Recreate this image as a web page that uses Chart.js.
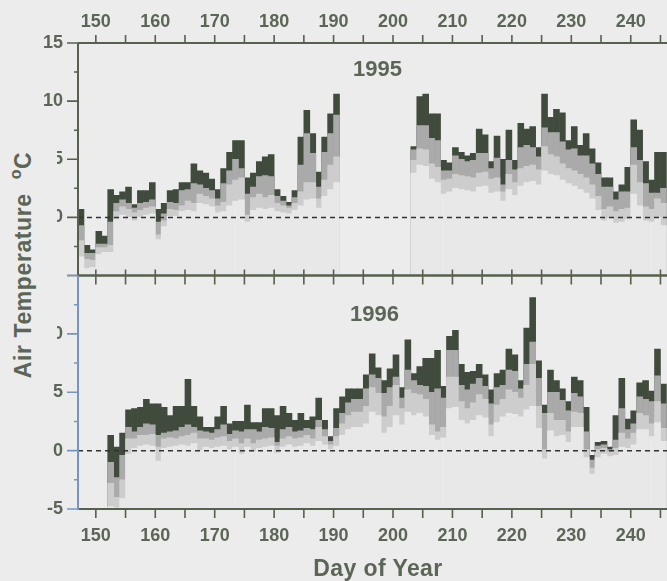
<!DOCTYPE html>
<html>
<head>
<meta charset="utf-8">
<script src="https://cdn.jsdelivr.net/npm/chart.js@4.4.0/dist/chart.umd.min.js"></script>
<style>
  html, body { margin: 0; padding: 0; background: #ececec; overflow: hidden; }
  body { width: 667px; height: 581px; position: relative; font-family: "Liberation Sans", Arial, sans-serif; }
  canvas { position: absolute; left: 0; }
  #panel1995 { top: 0; }
  #panel1996 { top: 270px; }
  .yTitle { position: absolute; left: 0; top: 140px; width: 57px; height: 243px; background: #ececec; z-index: 2; }
  .yTitle span { position: absolute; left: 23px; top: 125px; transform: translate(-50%, -50%) rotate(-90deg);
                 white-space: nowrap; font-weight: bold; font-size: 23px; letter-spacing: 0.6px; color: #5b6656; }
  .yTitle sup { font-size: 16px; position: relative; top: -2px; }
  .xTitle { position: absolute; left: 378px; top: 568px; transform: translate(-50%, -50%);
            white-space: nowrap; font-weight: bold; font-size: 23px; letter-spacing: 0.4px; color: #5b6656; z-index: 2; }
</style>
</head>
<body>
<canvas id="panel1995" width="667" height="280"></canvas>
<canvas id="panel1996" width="667" height="311"></canvas>
<div class="yTitle"><span>Air Temperature&nbsp; <sup>o</sup>C</span></div>
<div class="xTitle">Day of Year</div>
<script>
// Daily air temperature bands, one value per day starting at day 147.
// Each day is drawn as stacked bands: max (dark), upper (grey), lower (light), min.
const FIRST_DAY = 147;
const LAST_DAY = 246.1;

const max1995 = [
  0.7, -2.4, -2.8, -1.2, -1.6, 2.4, 1.9, 2.2, 2.6, 1.1,
  2.3, 2.3, 3.0, 0.7, 1.2, 2.3, 2.4, 3.0, 3.0, 4.6,
  4.0, 3.8, 3.3, 2.4, 4.2, 5.6, 6.6, 6.6, 3.4, 3.8,
  4.8, 5.2, 5.4, 2.4, 1.8, 1.3, 2.3, 6.9, 9.2, 7.2,
  3.9, 6.9, 8.9, 10.6, null, null, null, null, null, null,
  null, null, null, null, null, null, 6.1, 10.4, 10.6, 8.9,
  8.9, 4.9, 4.7, 6.0, 5.6, 5.3, 5.5, 7.6, 7.1, 4.8,
  7.0, 5.0, 7.5, 4.9, 8.1, 7.6, 7.8, 6.0, 10.6, 8.6,
  9.3, 9.0, 6.6, 7.8, 6.2, 7.2, 5.9, 4.7, 3.4, 3.4,
  2.2, 2.8, 4.3, 8.4, 7.5, 4.8, 3.2, 5.6, 5.6
];
const upper1995 = [
  -0.7, -3.1, -3.1, -2.3, -2.3, -0.4, 1.2, 1.5, 1.2, 0.8,
  1.2, 1.3, 1.5, -0.4, 0.3, 1.3, 1.2, 2.3, 2.4, 2.9,
  2.8, 2.5, 2.3, 1.6, 2.9, 4.0, 5.0, 4.2, 2.0, 2.6,
  3.5, 3.6, 3.5, 1.8, 1.4, 1.0, 1.7, 4.5, 7.2, 5.5,
  2.6, 5.6, 7.2, 8.8, null, null, null, null, null, null,
  null, null, null, null, null, null, 5.8, 7.9, 7.9, 6.8,
  6.6, 4.0, 4.0, 5.3, 5.0, 4.8, 4.9, 5.5, 5.5, 4.2,
  5.1, 2.8, 4.9, 4.1, 6.0, 6.2, 6.0, 5.2, 7.7, 7.3,
  7.3, 6.5, 5.8, 5.9, 5.3, 5.3, 4.6, 3.7, 2.6, 2.6,
  1.5, 2.2, 2.2, 6.0, 4.9, 2.9, 2.1, 2.1, 2.5
];
const lower1995 = [
  -2.0, -3.6, -3.7, -2.6, -2.6, -2.4, 0.5, 0.9, 0.7, 0.4,
  0.6, 0.8, 0.9, -1.5, -0.3, 0.7, 0.6, 1.0, 1.4, 1.2,
  2.0, 1.8, 1.6, 1.0, 1.3, 2.8, 3.2, 3.4, 0.2, 1.7,
  2.0, 1.7, 1.9, 1.2, 1.0, 0.8, 1.2, 2.2, 3.0, 3.0,
  1.6, 3.2, 4.5, 5.2, null, null, null, null, null, null,
  null, null, null, null, null, null, 4.9, 5.9, 5.8, 4.6,
  4.3, 3.2, 3.3, 3.7, 3.6, 3.5, 3.4, 3.8, 3.9, 3.3,
  3.4, 2.2, 3.7, 3.0, 4.2, 4.4, 4.5, 4.1, 6.1, 5.4,
  5.2, 4.6, 4.2, 4.0, 3.7, 3.4, 2.8, 1.8, 0.7, 0.9,
  0.5, 0.7, 0.8, 4.5, 3.0, 0.9, 0.7, 1.6, 1.2
];
const min1995 = [
  -3.4, -4.4, -4.3, -3.2, -3.0, -3.0, -0.2, 0.2, 0.0, -0.3,
  0.0, 0.2, 0.3, -1.9, -0.8, 0.1, 0.1, 0.5, 0.6, 0.5,
  1.2, 1.1, 0.9, 0.4, 0.5, 1.0, 1.4, 1.5, -0.4, 0.6,
  0.8, 0.7, 0.8, 0.5, 0.4, 0.3, 0.6, 1.0, 1.5, 1.6,
  0.8, 1.8, 2.4, 3.0, null, null, null, null, null, null,
  null, null, null, null, null, null, 3.8, 4.5, 4.4, 3.3,
  3.0, 2.0, 2.2, 2.5, 2.4, 2.3, 2.2, 2.6, 2.7, 2.1,
  2.2, 1.4, 2.4, 1.9, 2.7, 3.0, 3.1, 2.8, 4.0, 3.7,
  3.6, 3.2, 2.9, 2.7, 2.4, 2.1, 1.6, 0.6, -0.3, -0.1,
  -0.5, -0.4, -0.2, 2.0, 1.0, -0.3, -0.4, 0.0, -0.7
];

const max1996 = [
  null, null, null, null, null, 1.3, 0.3, 1.5, 3.5, 3.6,
  3.7, 4.4, 4.0, 4.0, 3.7, 3.0, 3.8, 3.8, 6.1, 3.8,
  2.9, 2.0, 2.0, 2.9, 3.8, 2.3, 2.5, 2.5, 3.9, 2.4,
  2.4, 3.6, 3.6, 3.0, 3.8, 3.2, 2.6, 3.2, 2.6, 2.9,
  4.5, 2.6, 1.2, 3.6, 4.6, 5.3, 5.3, 5.3, 6.5, 8.3,
  7.1, 6.0, 7.0, 8.2, 5.4, 9.5, 6.6, 7.2, 7.9, 7.9,
  8.6, 5.5, 9.8, 10.3, 7.4, 6.7, 6.8, 7.4, 6.5, 5.2,
  6.6, 6.9, 8.7, 8.2, 6.0, 10.5, 13.1, 7.7, 3.9, 6.9,
  6.0, 5.3, 4.2, 6.3, 6.0, 3.7, -0.4, 0.7, 0.8, 0.3,
  3.0, 6.2, 2.7, 3.4, 5.8, 6.0, 5.1, 8.7, 5.7
];
const upper1996 = [
  null, null, null, null, null, -1.0, -2.3, -0.4, 2.0, 1.6,
  2.0, 2.3, 2.2, 1.3, 1.5, 1.6, 1.7, 2.0, 2.2, 2.0,
  1.7, 1.6, 1.5, 1.8, 2.2, 1.4, 1.7, 1.6, 1.8, 1.8,
  1.6, 2.0, 1.9, 0.7, 1.8, 2.0, 1.6, 1.7, 1.9, 1.8,
  2.6, 1.8, 0.8, 1.9, 3.2, 4.1, 4.4, 4.4, 5.3, 6.5,
  6.2, 4.9, 5.4, 6.3, 4.5, 6.9, 6.0, 5.6, 5.5, 5.0,
  5.3, 4.5, 8.6, 8.6, 5.6, 5.2, 5.7, 6.2, 5.5, 4.0,
  5.4, 5.6, 6.9, 6.8, 5.3, 7.4, 9.3, 6.2, 3.2, 5.0,
  5.0, 4.3, 3.4, 4.9, 4.6, 1.6, -0.8, 0.4, 0.5, 0.1,
  0.9, 3.6, 1.8, 2.3, 4.6, 4.4, 4.2, 6.4, 4.0
];
const lower1996 = [
  null, null, null, null, null, -2.8, -4.0, -2.5, 1.0, 1.0,
  1.3, 1.3, 1.4, 0.3, 1.0, 1.1, 1.0, 1.2, 1.3, 1.5,
  1.0, 1.0, 0.9, 1.1, 1.2, 0.8, 1.0, 0.6, 1.0, 0.6,
  0.9, 1.0, 1.1, 0.4, 1.0, 1.2, 1.0, 1.1, 1.3, 1.0,
  2.0, 1.2, 0.5, 1.2, 2.3, 3.0, 3.3, 3.3, 3.8, 5.4,
  4.9, 2.9, 3.8, 5.6, 3.6, 5.2, 4.9, 4.8, 4.4, 2.2,
  1.6, 2.0, 6.3, 6.3, 4.2, 3.6, 4.1, 4.8, 4.4, 2.2,
  3.9, 4.4, 5.2, 5.0, 4.5, 5.6, 7.4, 3.8, 0.1, 3.2,
  2.6, 2.6, 1.6, 3.3, 3.2, 0.1, -1.5, 0.1, 0.2, -0.1,
  0.2, 1.5, 1.0, 1.5, 3.2, 3.0, 2.3, 4.2, 1.9
];
const min1996 = [
  null, null, null, null, null, -4.8, -4.9, -4.1, -0.3, 0.2,
  0.4, 0.5, 0.4, -0.9, 0.2, 0.3, 0.4, 0.5, 0.4, 0.6,
  0.0, 0.3, 0.2, 0.3, 0.4, 0.1, 0.3, -0.3, 0.3, -0.1,
  0.2, 0.3, 0.4, -0.2, 0.3, 0.5, 0.3, 0.4, 0.6, 0.4,
  0.8, 0.5, 0.1, 0.4, 1.3, 1.8, 2.0, 2.0, 2.3, 3.3,
  3.0, 1.5, 2.0, 3.0, 2.2, 3.3, 3.0, 3.2, 2.9, 1.3,
  0.9, 1.1, 3.6, 3.7, 2.6, 2.3, 2.6, 3.0, 2.8, 1.2,
  2.4, 2.9, 3.2, 3.1, 2.9, 3.5, 3.8, 1.9, -0.7, 1.7,
  1.2, 1.3, 0.7, 2.0, 2.0, -0.6, -2.0, -0.6, -0.3, -0.5,
  -0.4, 0.3, 0.2, 0.5, 1.8, 1.8, 1.2, 2.4, 0.8
];

const Y_MIN = -5, Y_MAX = 15;
const TEXT = '#5b6656';
const AXIS = '#56604f';

// each day occupies [day, day+1), bars go from the panel floor up to the value
function toBars(values) {
  const pts = [];
  values.forEach((v, i) => {
    if (v !== null) pts.push({ x: FIRST_DAY + i + 0.5, y: [Y_MIN, v] });
  });
  return pts;
}

function bandDatasets(tMax, tUpper, tLower, tMin) {
  // first dataset is painted last, so the lowest band sits on top
  return [
    { data: toBars(tMin), backgroundColor: '#e8e8e8' },
    { data: toBars(tLower), backgroundColor: '#cdcdcd' },
    { data: toBars(tUpper), backgroundColor: '#aaaaaa' },
    { data: toBars(tMax), backgroundColor: '#414b3d' }
  ].map(ds => Object.assign(ds, {
    grouped: false, barPercentage: 1, categoryPercentage: 1,
    borderWidth: 0, borderSkipped: false
  }));
}

// axis frame, tick marks, zero line and year label
const frame = {
  id: 'frame',
  afterDatasetsDraw(chart, args, opts) {
    const { ctx, chartArea: a, scales: { x, y } } = chart;
    ctx.save();

    // dashed zero line
    const y0 = y.getPixelForValue(0);
    ctx.setLineDash([5, 4]);
    ctx.strokeStyle = '#333';
    ctx.lineWidth = 1.5;
    ctx.beginPath();
    ctx.moveTo(a.left, y0);
    ctx.lineTo(a.right, y0);
    ctx.stroke();
    ctx.setLineDash([]);

    // frame lines
    ctx.lineWidth = 2;
    ctx.strokeStyle = AXIS;
    ctx.beginPath();
    ctx.moveTo(a.left, a.top); ctx.lineTo(a.right, a.top);
    ctx.moveTo(a.left, a.bottom); ctx.lineTo(a.right, a.bottom);
    ctx.stroke();
    ctx.strokeStyle = opts.leftColor || AXIS;
    ctx.beginPath();
    ctx.moveTo(a.left, a.top); ctx.lineTo(a.left, a.bottom + 1);
    ctx.stroke();

    // x tick marks (every 5 days)
    ctx.lineWidth = 1.6;
    ctx.strokeStyle = AXIS;
    ctx.beginPath();
    x.ticks.forEach(t => {
      if (t.value % 5 !== 0) return;
      const px = x.getPixelForValue(t.value);
      opts.xTicks.forEach(tk => {
        const base = tk.edge === 'top' ? a.top : a.bottom;
        ctx.moveTo(px, base);
        ctx.lineTo(px, base + tk.len);
      });
    });
    ctx.stroke();

    // y tick marks, long at labelled values
    ctx.strokeStyle = opts.leftColor || AXIS;
    ctx.beginPath();
    y.ticks.forEach(t => {
      const py = y.getPixelForValue(t.value);
      const len = t.value % 5 === 0 ? 11 : 4;
      ctx.moveTo(a.left - len, py);
      ctx.lineTo(a.left, py);
    });
    ctx.stroke();

    // year label
    if (opts.label) {
      ctx.fillStyle = TEXT;
      ctx.font = 'bold 22px "Liberation Sans", Arial, sans-serif';
      ctx.textAlign = 'center';
      ctx.textBaseline = 'middle';
      ctx.fillText(opts.label.text, x.getPixelForValue(opts.label.day), y.getPixelForValue(opts.label.temp));
    }
    ctx.restore();
  }
};

// hiddenLabel: the y value left unlabelled where the two panels meet
function panelOptions(xPos, xHeight, padding, hiddenLabel, frameOpts) {
  const tickFont = { family: '"Liberation Sans", Arial, sans-serif', size: 18, weight: 'bold' };
  return {
    responsive: false,
    devicePixelRatio: 1,
    animation: false,
    layout: { padding: padding },
    plugins: { legend: { display: false }, tooltip: { enabled: false }, frame: frameOpts },
    scales: {
      x: {
        type: 'linear',
        position: xPos,
        min: FIRST_DAY,
        max: LAST_DAY,
        offset: false,
        grid: { display: false, drawTicks: false },
        border: { display: false },
        afterFit: s => { s.height = xHeight; s.paddingLeft = 0; s.paddingRight = 0; },
        ticks: {
          stepSize: 5,
          includeBounds: false,
          autoSkip: false,
          maxRotation: 0,
          padding: xPos === 'top' ? 10 : 16,
          color: TEXT,
          font: tickFont,
          callback: v => (v % 10 === 0 ? v : '')
        }
      },
      y: {
        min: Y_MIN,
        max: Y_MAX,
        grid: { display: false, drawTicks: false },
        border: { display: false },
        afterFit: s => { s.width = 78; s.paddingTop = 0; s.paddingBottom = 0; },
        ticks: {
          stepSize: 2.5,
          padding: 15,
          color: TEXT,
          font: tickFont,
          callback: v => (v % 5 === 0 && v !== hiddenLabel ? v : '')
        }
      }
    }
  };
}

new Chart(document.getElementById('panel1995'), {
  type: 'bar',
  data: { datasets: bandDatasets(max1995, upper1995, lower1995, min1995) },
  options: panelOptions('top', 43, { left: 0, right: 0, top: 0, bottom: 4.5 }, Y_MIN, {
    xTicks: [{ edge: 'top', len: -8 }, { edge: 'bottom', len: -6 }],
    label: { text: '1995', day: 197.4, temp: 12.7 }
  }),
  plugins: [frame]
});

new Chart(document.getElementById('panel1996'), {
  type: 'bar',
  data: { datasets: bandDatasets(max1996, upper1996, lower1996, min1996) },
  options: panelOptions('bottom', 72, { left: 0, right: 0, top: 5.5, bottom: 0 }, Y_MAX, {
    xTicks: [{ edge: 'top', len: 9 }, { edge: 'bottom', len: 9 }],
    leftColor: '#7596c4',
    label: { text: '1996', day: 196.9, temp: 11.6 }
  }),
  plugins: [frame]
});
</script>
</body>
</html>
